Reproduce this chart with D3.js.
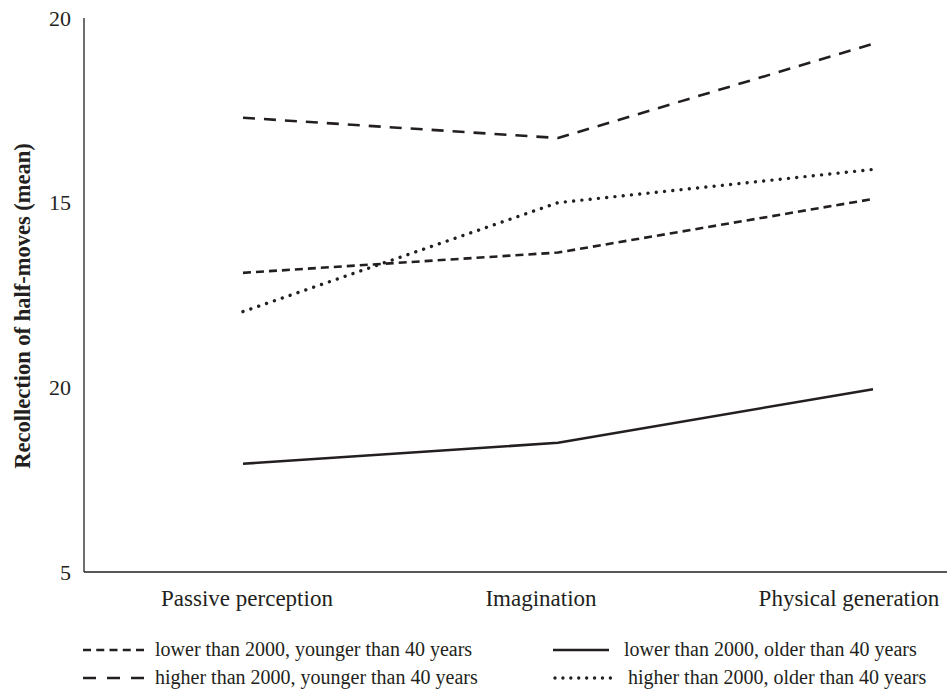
<!DOCTYPE html>
<html>
<head>
<meta charset="utf-8">
<script src="https://cdn.jsdelivr.net/npm/d3@7"></script>
<style>
  html, body { margin: 0; padding: 0; background: #fff; }
  svg { display: block; }
  text { font-family: "Liberation Serif", "DejaVu Serif", serif; fill: #231f20; }
</style>
</head>
<body>
<svg id="chart" width="952" height="691"></svg>
<script>
// ---- data ----
const categories = ["Passive perception", "Imagination", "Physical generation"];
const yTickValues = [5, 10, 15, 20];
const yTickLabels = ["5", "20", "15", "20"];
const yAxisTitle = "Recollection of half-moves (mean)";

const seriesNames = [
  "lower than 2000, younger than 40 years",
  "higher than 2000, younger than 40 years",
  "lower than 2000, older than 40 years",
  "higher than 2000, older than 40 years"
];
const lowerYounger = [13.1, 13.65, 15.1];
const higherYounger = [17.3, 16.75, 19.3];
const lowerOlder = [7.93, 8.5, 9.95];
const higherOlder = [12.05, 15.0, 15.9];

// ---- layout ----
const svg = d3.select("#chart");
const ink = "#231f20";
const axisX0 = 84, axisX1 = 947;

const x = d3.scalePoint().domain(categories).range([243, 873]);
const y = d3.scaleLinear().domain([5, 20]).range([572, 18]);

const styles = [
  { dash: "8 5", legendDash: "8 5.25", width: 2.6, cap: "butt" },
  { dash: "12 9", legendDash: "13 11", width: 2.6, cap: "butt" },
  { dash: null, legendDash: null, width: 2.6, cap: "butt" },
  { dash: "0.01 8.3", legendDash: "0.01 7.9", width: 3.4, cap: "round" }
];
const seriesValues = [lowerYounger, higherYounger, lowerOlder, higherOlder];

// axes lines
svg.append("line").attr("x1", axisX0).attr("x2", axisX0)
  .attr("y1", y(20)).attr("y2", y(5))
  .attr("stroke", ink).attr("stroke-width", 1.3);
svg.append("line").attr("x1", axisX0).attr("x2", axisX1)
  .attr("y1", y(5)).attr("y2", y(5))
  .attr("stroke", ink).attr("stroke-width", 1.3);

// y tick labels
const yAxis = d3.axisLeft(y).tickValues(yTickValues)
  .tickFormat((d, i) => yTickLabels[i]).tickSize(0).tickPadding(13);
const gy = svg.append("g").attr("transform", `translate(${axisX0},0)`).call(yAxis);
gy.select(".domain").remove();
gy.selectAll("text").style("font-family", "Liberation Serif, serif")
  .style("font-size", "22px").attr("fill", ink);

// x category labels
const labelOffsets = [4, -17, -24];
svg.append("g").selectAll("text").data(categories).join("text")
  .attr("x", (d, i) => x(d) + labelOffsets[i])
  .attr("y", 606)
  .attr("text-anchor", "middle")
  .style("font-size", "23px")
  .text(d => d);

// y axis title
svg.append("text")
  .attr("transform", `translate(30,306) rotate(-90)`)
  .attr("text-anchor", "middle")
  .style("font-size", "22.5px")
  .style("font-weight", "bold")
  .text(yAxisTitle);

// lines
const line = d3.line().x((d, i) => x(categories[i])).y(d => y(d));
seriesValues.forEach((vals, k) => {
  const p = svg.append("path").datum(vals)
    .attr("d", line)
    .attr("fill", "none")
    .attr("stroke", ink)
    .attr("stroke-width", styles[k].width)
    .attr("stroke-linecap", styles[k].cap)
    .attr("stroke-linejoin", "round");
  if (styles[k].dash) p.attr("stroke-dasharray", styles[k].dash);
});

// legend
const legendPos = [
  { x1: 83, x2: 144, tx: 155, y: 650 },
  { x1: 83, x2: 144, tx: 155, y: 678 },
  { x1: 553, x2: 609, tx: 624, y: 650 },
  { x1: 555, x2: 617, tx: 628, y: 678 }
];
seriesNames.forEach((name, k) => {
  const lp = legendPos[k];
  const l = svg.append("line")
    .attr("x1", lp.x1).attr("x2", lp.x2).attr("y1", lp.y).attr("y2", lp.y)
    .attr("stroke", ink).attr("stroke-width", styles[k].width)
    .attr("stroke-linecap", styles[k].cap);
  if (styles[k].legendDash) l.attr("stroke-dasharray", styles[k].legendDash);
  svg.append("text").attr("x", lp.tx).attr("y", lp.y + 5.5)
    .style("font-size", "20px").text(name);
});
</script>
</body>
</html>
